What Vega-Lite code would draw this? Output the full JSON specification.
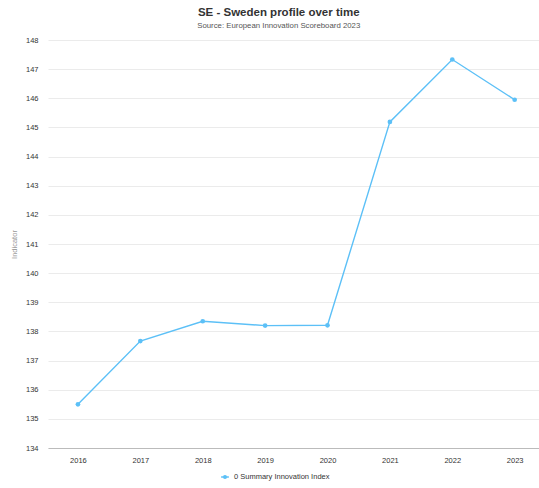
{
  "$schema": "https://vega.github.io/schema/vega-lite/v6.json",
  "width": 491,
  "height": 408,
  "autosize": "none",
  "padding": {"left": 48, "top": 40, "right": 0, "bottom": 40},
  "background": "white",
  "title": {
    "text": "SE - Sweden profile over time",
    "subtitle": "Source: European Innovation Scoreboard 2023",
    "font": "Liberation Sans",
    "fontSize": 11.5,
    "fontWeight": "bold",
    "color": "#333333",
    "subtitleFont": "Liberation Sans",
    "subtitleFontSize": 7.8,
    "subtitleColor": "#555555",
    "subtitlePadding": 4,
    "anchor": "middle",
    "frame": "bounds",
    "dx": 4,
    "offset": 6
  },
  "data": {
    "values": [
      {"year": 2016, "value": 135.50, "series": "0 Summary Innovation Index"},
      {"year": 2017, "value": 137.67, "series": "0 Summary Innovation Index"},
      {"year": 2018, "value": 138.35, "series": "0 Summary Innovation Index"},
      {"year": 2019, "value": 138.20, "series": "0 Summary Innovation Index"},
      {"year": 2020, "value": 138.21, "series": "0 Summary Innovation Index"},
      {"year": 2021, "value": 145.19, "series": "0 Summary Innovation Index"},
      {"year": 2022, "value": 147.33, "series": "0 Summary Innovation Index"},
      {"year": 2023, "value": 145.95, "series": "0 Summary Innovation Index"}
    ]
  },
  "mark": {
    "type": "line",
    "strokeWidth": 1.4,
    "point": {"filled": true, "size": 22, "color": "#2aa5f0"}
  },
  "encoding": {
    "x": {
      "field": "year",
      "type": "quantitative",
      "scale": {"domain": [2015.52, 2023.39], "nice": false, "zero": false},
      "axis": {
        "title": null,
        "values": [2016, 2017, 2018, 2019, 2020, 2021, 2022, 2023],
        "format": "d",
        "labelAngle": 0,
        "labelFont": "Liberation Sans",
        "labelFontSize": 7.5,
        "labelColor": "#333333",
        "labelPadding": 8,
        "labelFlush": false,
        "ticks": false,
        "domain": true,
        "domainColor": "#bbbbbb",
        "domainWidth": 1,
        "grid": false
      }
    },
    "y": {
      "field": "value",
      "type": "quantitative",
      "scale": {"domain": [134, 148], "nice": false, "zero": false},
      "axis": {
        "title": "Indicator",
        "titleFont": "Liberation Sans",
        "titleFontSize": 7.5,
        "titleFontWeight": "normal",
        "titleColor": "#999999",
        "titlePadding": 7,
        "values": [134, 135, 136, 137, 138, 139, 140, 141, 142, 143, 144, 145, 146, 147, 148],
        "labelFont": "Liberation Sans",
        "labelFontSize": 7.5,
        "labelColor": "#333333",
        "labelPadding": 10,
        "ticks": false,
        "domain": false,
        "grid": true,
        "gridColor": "#ebebeb",
        "gridWidth": 1
      }
    },
    "color": {
      "field": "series",
      "type": "nominal",
      "scale": {"range": ["#5cc0f7"]},
      "legend": {
        "title": null,
        "orient": "none",
        "legendX": 172,
        "legendY": 432,
        "direction": "horizontal",
        "labelFont": "Liberation Sans",
        "labelFontSize": 7.5,
        "labelColor": "#333333",
        "symbolType": "M-1,0L1,0M-0.35,0A0.35,0.35 0 1,0 0.35,0A0.35,0.35 0 1,0 -0.35,0Z",
        "symbolSize": 60,
        "symbolStrokeWidth": 1.4,
        "symbolFillColor": "#2aa5f0"
      }
    }
  },
  "config": {
    "view": {"stroke": null}
  }
}
